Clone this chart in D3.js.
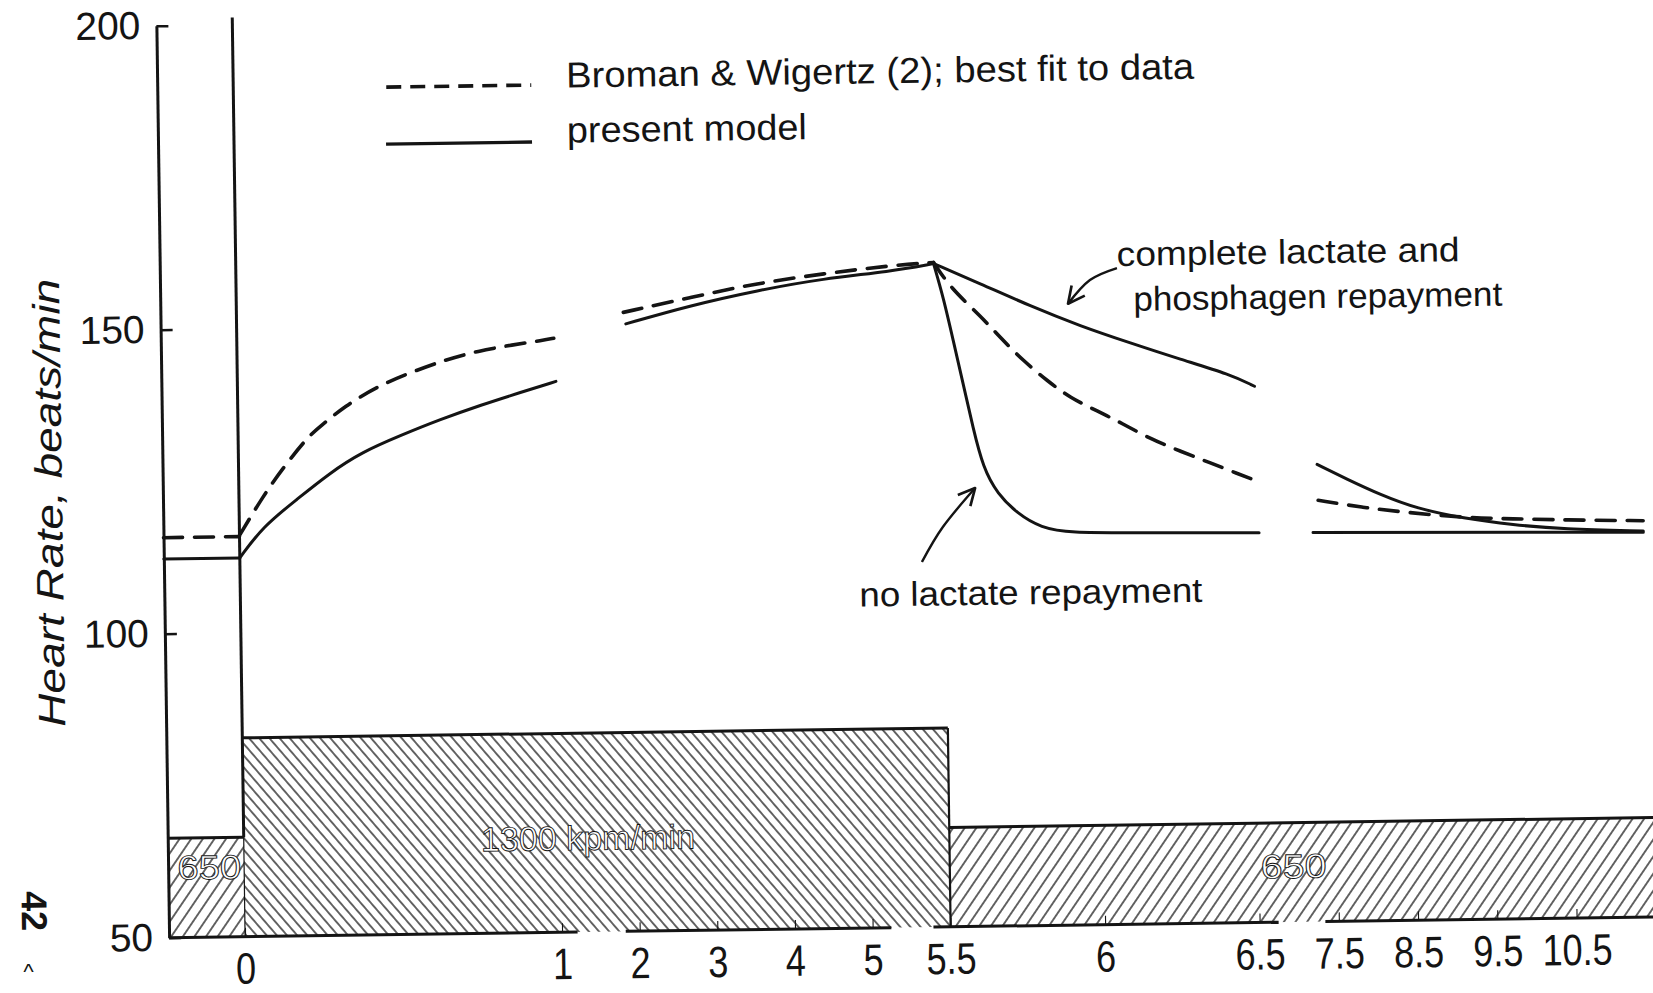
<!DOCTYPE html>
<html><head><meta charset="utf-8">
<script src="https://cdn.jsdelivr.net/npm/d3@7"></script>
<style>
html,body{margin:0;padding:0;background:#fff;}
svg{display:block;background:#fff;}
</style></head><body>
<svg id="chart" width="1653" height="993"></svg>
<script>
// ================= DATA =================
const yTicks = [50, 100, 150, 200];
const xTicks = [0, 1, 2, 3, 4, 5, 5.5, 6, 6.5, 7.5, 8.5, 9.5, 10.5];
const xTickLabels = ["0", "1", "2", "3", "4", "5", "5.5", "6", "6.5", "7.5", "8.5", "9.5", "10.5"];

// work rate blocks (kpm/min), time in minutes
const workStart = [-0.24, 0, 5.5];
const workEnd = [0, 5.5, 11.7];
const workRate = [650, 1300, 650];
const workLabels = ["650", "1300 kpm/min", "650"];

// broken time axis segments
const axisSegStart = [-0.24, 1.82, 5.39, 7.33];
const axisSegEnd = [1.2, 5.12, 6.74, 11.7];

// Broman & Wigertz best fit (dashed) [time, HR]
const bromanPre = [[-0.24, 115.8], [0, 115.8]];
const bromanRise1 = [[0, 116.0], [0.076, 122.4], [0.139, 126.9], [0.219, 132.0], [0.258, 133.7], [0.338, 137.0],
  [0.441, 140.2], [0.552, 142.5], [0.657, 144.4], [0.761, 145.8], [0.869, 146.7], [0.967, 147.4], [1.0, 147.7]];
const bromanRise2 = [[1.90, 151.8], [2.77, 154.1], [3.63, 156.3], [4.49, 157.7], [5.17, 158.9], [5.45, 159.3]];
const bromanRecov1 = [[5.45, 159.3], [5.528, 155.1], [5.624, 150.4], [5.687, 146.8], [5.761, 142.9], [5.837, 139.6],
  [5.911, 136.7], [5.998, 134.5], [6.081, 132.3], [6.168, 129.8], [6.264, 127.7], [6.361, 125.7], [6.448, 123.9], [6.544, 122.6]];
const bromanRecov2 = [[7.313, 119.3], [7.878, 118.0], [8.433, 117.1], [9.139, 116.1], [9.77, 115.8], [10.4, 115.5], [11.41, 115.2]];

// present model (solid)
const modelPre = [[-0.24, 112.3], [0, 112.3]];
const modelRise1 = [[0, 112.3], [0.074, 117.4], [0.183, 121.8], [0.286, 126.0], [0.389, 129.4], [0.514, 132.1],
  [0.638, 134.6], [0.768, 136.9], [0.895, 138.9], [1.02, 140.6]];
const modelRise2 = [[1.93, 149.9], [2.77, 152.8], [3.63, 155.1], [4.48, 156.9], [5.17, 157.9], [5.45, 159.1]];
const completeRecov1 = [[5.45, 159.1], [5.625, 155.7], [5.786, 151.9], [5.947, 148.5], [6.108, 145.6], [6.269, 142.8], [6.43, 140.2], [6.53, 138.2]];
const completeRecov2 = [[7.306, 125.2], [7.682, 122.7], [8.095, 120.1], [8.559, 117.7], [9.139, 116.0], [9.768, 114.8], [10.398, 114.0], [11.41, 113.5]];
const noLactate1 = [[5.45, 159.1], [5.505, 153.5], [5.535, 146.4], [5.565, 139.3], [5.595, 132.0], [5.626, 125.4], [5.671, 121.1],
  [5.735, 117.8], [5.81, 115.4], [5.907, 114.5], [6.101, 114.4], [6.562, 114.1]];
const noLactate2 = [[7.243, 114.0], [11.41, 113.3]];

// annotation arrows [time, HR]
const arrowComplete = [[6.068, 157.96], [5.98, 156.05], [5.908, 152.2]];
const arrowNoLactate = [[5.349, 110.07], [5.487, 115.8], [5.599, 122.1]];

// texts
const legendTexts = ["Broman & Wigertz (2); best fit to data", "present model"];
const noteComplete = ["complete lactate and", "phosphagen repayment"];
const noteNoLactate = "no lactate repayment";
const yTitle = "Heart Rate, beats/min";

// ================= LAYOUT =================
const svg = d3.select("#chart");
const defs = svg.append("defs");
const ink = "#141414";
const font = "'Liberation Sans', Arial, sans-serif";

const x = d3.scaleLinear()
  .domain([-0.24, 0, 1, 5, 5.5, 6.5, 10.5, 11.7])
  .range([163, 239, 556, 866.6, 944.6, 1253.6, 1570.6, 1665.7]);
const y = d3.scaleLinear().domain([50, 200]).range([928.5, 16.5]);
const workH = d3.scaleLinear().domain([0, 1300]).range([0, y(50) - y(82.7)]);

function hatch(id, w, angle) {
  const p = defs.append("pattern").attr("id", id)
    .attr("patternUnits", "userSpaceOnUse")
    .attr("width", w).attr("height", 40)
    .attr("patternTransform", `rotate(${angle})`);
  p.append("line").attr("x1", w / 2).attr("x2", w / 2).attr("y1", -2).attr("y2", 42)
    .attr("stroke", ink).attr("stroke-width", 1.3);
}
hatch("hFwd", 9.6, 35);
hatch("hBack", 7.7, -40);

defs.append("marker").attr("id", "chev")
  .attr("viewBox", "0 0 12 12").attr("refX", 11).attr("refY", 6)
  .attr("markerWidth", 20).attr("markerHeight", 20)
  .attr("markerUnits", "userSpaceOnUse").attr("orient", "auto")
  .append("path").attr("d", "M1,1 L11,6 L1,11")
  .attr("fill", "none").attr("stroke", ink).attr("stroke-width", 1.6)
  .attr("stroke-linejoin", "round");

const g = svg.append("g").attr("transform", "rotate(-0.8,826,496)");

// ---- work-rate bars ----
const bars = workStart.map((s, i) => ({ s, e: workEnd[i], w: workRate[i], label: workLabels[i] }));
const barG = g.append("g");
barG.selectAll("rect").data(bars).join("rect")
  .attr("x", d => x(d.s)).attr("width", d => x(d.e) - x(d.s))
  .attr("y", d => y(50) - workH(d.w)).attr("height", d => workH(d.w))
  .attr("fill", d => d.w > 1000 ? "url(#hBack)" : "url(#hFwd)");
barG.selectAll("line.top").data(bars).join("line").attr("class", "top")
  .attr("x1", d => x(d.s)).attr("x2", d => x(d.e))
  .attr("y1", d => y(50) - workH(d.w)).attr("y2", d => y(50) - workH(d.w))
  .attr("stroke", ink).attr("stroke-width", 3);
barG.selectAll("line.side").data(bars.slice(1)).join("line").attr("class", "side")
  .attr("x1", d => x(d.s)).attr("x2", d => x(d.s))
  .attr("y1", (d, i) => y(50) - Math.max(workH(d.w), workH(bars[i].w)))
  .attr("y2", y(50))
  .attr("stroke", ink).attr("stroke-width", (d, i) => i === 0 ? 1.2 : 2.2);

// hollow labels in bars
const labelT = [-0.11, 1.35, 6.94];
const labelRise = [58, 82, 44];
const labelLen = [64, 214, 66];
barG.selectAll("text").data(bars).join("text")
  .attr("x", (d, i) => x(labelT[i])).attr("y", (d, i) => y(50) - labelRise[i])
  .attr("text-anchor", "middle")
  .attr("font-family", font).attr("font-size", 34)
  .attr("textLength", (d, i) => labelLen[i]).attr("lengthAdjust", "spacingAndGlyphs")
  .attr("fill", "#fff").attr("stroke", ink).attr("stroke-width", 0.9)
  .text(d => d.label);

// ---- axes ----
const yAxis = d3.axisLeft(y).tickValues(yTicks).tickSizeInner(-12).tickSizeOuter(0).tickPadding(16)
  .tickFormat(d3.format("d"));
const yg = g.append("g").attr("transform", `translate(${x(-0.24)},0)`).call(yAxis);
yg.select(".domain").attr("stroke", ink).attr("stroke-width", 3);
yg.selectAll(".tick line").attr("stroke", ink).attr("stroke-width", 2.5);
yg.selectAll(".tick text").attr("fill", ink).attr("font-family", font).attr("font-size", 39);

const xAxis = d3.axisBottom(x).tickValues(xTicks).tickSizeInner(-9).tickSizeOuter(0)
  .tickFormat((d, i) => xTickLabels[i]);
const xg = g.append("g").attr("transform", `translate(0,${y(50)})`).call(xAxis);
xg.select(".domain").remove();
xg.selectAll(".tick line").attr("stroke", ink).attr("stroke-width", 1.1);
xg.selectAll(".tick text").attr("fill", ink).attr("y", null).attr("dy", null)
  .attr("font-family", font).attr("font-size", 44)
  .attr("transform", "translate(0,47) scale(0.82,1)");

// broken bottom axis line
g.append("g").selectAll("line").data(axisSegStart.map((s, i) => [s, axisSegEnd[i]])).join("line")
  .attr("x1", d => x(d[0])).attr("x2", d => x(d[1]))
  .attr("y1", y(50)).attr("y2", y(50))
  .attr("stroke", ink).attr("stroke-width", 3);

// time-zero vertical line
g.append("line").attr("x1", x(0)).attr("x2", x(0))
  .attr("y1", y(201.2)).attr("y2", y(50) - workH(650))
  .attr("stroke", ink).attr("stroke-width", 3);

// y title
g.append("text")
  .attr("transform", "translate(62,492) rotate(-90)")
  .attr("text-anchor", "middle")
  .attr("font-family", font).attr("font-style", "italic")
  .attr("font-size", 38).attr("textLength", 448).attr("lengthAdjust", "spacingAndGlyphs")
  .attr("fill", ink).text(yTitle);

// ---- curves ----
const line = d3.line().x(d => x(d[0])).y(d => y(d[1])).curve(d3.curveBasis);
const dashed = [bromanPre, bromanRise1, bromanRise2, bromanRecov1, bromanRecov2];
const solid = [modelPre, modelRise1, modelRise2, completeRecov1, completeRecov2, noLactate1, noLactate2];
const cg = g.append("g").attr("fill", "none").attr("stroke", ink).attr("stroke-linecap", "round");
cg.selectAll("path.s").data(solid).join("path").attr("class", "s")
  .attr("d", line).attr("stroke-width", 3);
cg.selectAll("path.d").data(dashed).join("path").attr("class", "d")
  .attr("d", line).attr("stroke-width", 3.6).attr("stroke-dasharray", "19,12");

// ---- annotation arrows ----
const arrowLine = d3.line().x(d => x(d[0])).y(d => y(d[1])).curve(d3.curveNatural);
g.append("g").selectAll("path").data([arrowComplete, arrowNoLactate]).join("path")
  .attr("d", arrowLine).attr("fill", "none").attr("stroke", ink).attr("stroke-width", 2.4)
  .attr("marker-end", "url(#chev)");

// ---- texts ----
const txt = (sel, str, px, py, len, size) => sel.append("text").attr("x", px).attr("y", py)
  .attr("font-family", font).attr("font-size", size)
  .attr("textLength", len).attr("lengthAdjust", "spacingAndGlyphs")
  .attr("fill", ink).text(str);

const lg = g.append("g");
lg.append("line").attr("x1", 392).attr("x2", 537).attr("y1", 81).attr("y2", 81)
  .attr("stroke", ink).attr("stroke-width", 3.6).attr("stroke-dasharray", "15,9");
lg.append("line").attr("x1", 391).attr("x2", 537).attr("y1", 138).attr("y2", 138)
  .attr("stroke", ink).attr("stroke-width", 3.4);
txt(lg, legendTexts[0], 572, 84, 628, 36);
txt(lg, legendTexts[1], 572, 139, 240, 36);

txt(g, noteComplete[0], 1120, 270, 343, 34);
txt(g, noteComplete[1], 1136, 315, 369, 34);
txt(g, noteNoLactate, 858, 607, 343, 34);

// page marks
g.append("text").attr("transform", "translate(16,900) rotate(90)")
  .attr("text-anchor", "middle").attr("font-family", font)
  .attr("font-weight", "bold").attr("font-size", 36).attr("fill", ink).text("42");
g.append("text").attr("x", 22).attr("y", 968).attr("text-anchor", "middle")
  .attr("font-family", font).attr("font-size", 22)
  .attr("fill", ink).text("^");
</script>
</body></html>
